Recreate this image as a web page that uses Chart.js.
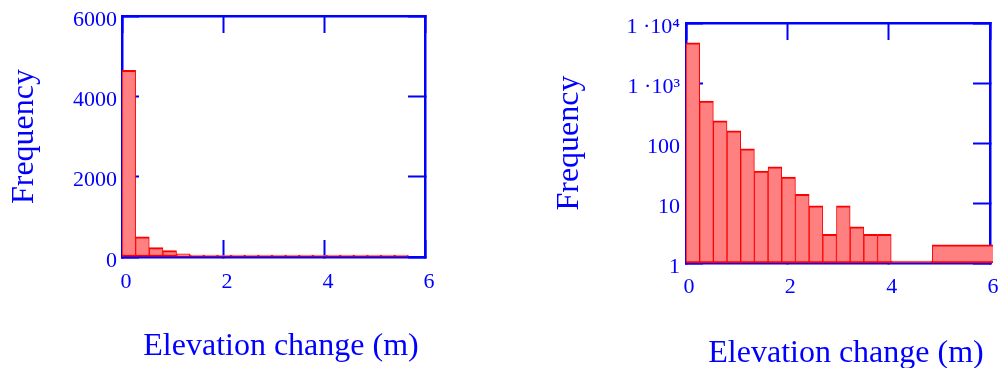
<!DOCTYPE html>
<html>
<head>
<meta charset="utf-8">
<script src="https://cdn.jsdelivr.net/npm/chart.js@4.4.0/dist/chart.umd.min.js"></script>
<style>
  html, body { margin: 0; padding: 0; background: #fff; }
  #wrap { position: relative; width: 998px; height: 368px; overflow: hidden; }
  canvas { position: absolute; top: 0; }
  #linChart { left: 0; }
  #logChart { left: 499px; }
  .xtitle {
    position: absolute; width: 300px; text-align: center; white-space: nowrap;
    font: 32px/1 'Liberation Serif', 'Times New Roman', serif; color: #0000ff;
  }
</style>
</head>
<body>
<div id="wrap">
  <canvas id="linChart" width="499" height="368"></canvas>
  <canvas id="logChart" width="499" height="368"></canvas>
  <div class="xtitle" style="left:131px; top:328px;">Elevation change (m)</div>
  <div class="xtitle" style="left:696px; top:335px;">Elevation change (m)</div>
</div>
<script>
// ===== Elevation change histogram (linear and log frequency) =====

// bin centres (m) and number of cells per bin
const binCenters = [0.135, 0.405, 0.675, 0.945, 1.215, 1.485, 1.755, 2.025, 2.295, 2.565, 2.835,
                    3.105, 3.375, 3.645, 3.915, 4.185, 4.455, 4.725, 4.995, 5.265, 5.535];
const binCounts = [4650, 500, 235, 160, 80, 34, 40, 27, 14, 9, 3,
                   9, 4, 3, 3, 1, 0, 0, 0, 0, 2];

// axis ticks
const xTicks = [0, 2, 4, 6];
const linTicks = [0, 2000, 4000, 6000];
const logTicks = [1, 10, 100, 1000, 10000];
const logTickLabels = ['1', '10', '100', '1 \u00b710\u00b3', '1 \u00b710\u2074'];

const BLUE = '#0000ff';

Chart.defaults.font.family = "'Liberation Serif', 'Times New Roman', serif";
Chart.defaults.color = BLUE;

const setTicks = values => scale => {
    scale.ticks = values.map(v => ({ value: v }));
};

// fixed box size; label padding must not push the plot area around
const fixSize = (prop, size) => scale => {
    scale[prop] = size;
    scale.paddingTop = scale.paddingBottom = scale.paddingLeft = scale.paddingRight = 0;
};

// Mathcad style frame: blue border on all sides, ticks pointing inwards
function frameAxis(extra) {
    return Object.assign({
        offset: false,
        grid: {
            offset: false,
            drawOnChartArea: false,
            drawTicks: true,
            tickLength: -17,
            tickWidth: 2,
            tickColor: BLUE
        },
        border: { display: true, color: BLUE, width: 2.5 }
    }, extra);
}

const barStyle = {
    backgroundColor: '#ff8080',
    borderColor: '#ff0000',
    borderWidth: { top: 2, right: 1, bottom: 2, left: 1 },
    borderSkipped: false,
    minBarLength: 2,
    barThickness: 'flex',
    categoryPercentage: 1,
    barPercentage: 1
};

const quietPlugins = { legend: { display: false }, tooltip: { enabled: false } };
const tickFont = { size: 22 };
const titleFont = { size: 32 };

// ---- linear frequency ----
new Chart(document.getElementById('linChart'), {
    type: 'bar',
    data: {
        datasets: [{
            data: binCenters.map((x, i) => ({ x, y: binCounts[i] })),
            ...barStyle
        }]
    },
    options: {
        responsive: false,
        animation: false,
        layout: { padding: { left: 5, top: 16, right: 74, bottom: 0 } },
        plugins: quietPlugins,
        scales: {
            x: frameAxis({
                type: 'linear', position: 'bottom', min: 0, max: 6,
                afterBuildTicks: setTicks(xTicks),
                afterFit: fixSize('height', 111),
                ticks: { font: tickFont, padding: 29, labelOffset: 4, maxRotation: 0, autoSkip: false,
                         callback: v => String(v) }
            }),
            x2: frameAxis({
                type: 'linear', position: 'top', min: 0, max: 6,
                afterBuildTicks: setTicks(xTicks),
                afterFit: fixSize('height', 0),
                ticks: { display: false }
            }),
            y: frameAxis({
                type: 'linear', position: 'left', min: 0, max: 6000,
                afterBuildTicks: setTicks(linTicks),
                afterFit: fixSize('width', 117),
                ticks: { font: tickFont, padding: 22, labelOffset: 4, autoSkip: false,
                         callback: v => String(v) },
                title: { display: true, text: 'Frequency', font: titleFont, padding: 0 }
            }),
            y2: frameAxis({
                type: 'linear', position: 'right', min: 0, max: 6000,
                afterBuildTicks: setTicks(linTicks),
                afterFit: fixSize('width', 0),
                ticks: { display: false }
            })
        }
    }
});

// ---- log frequency (empty bins cannot be shown on a log axis) ----
const logData = binCenters
    .map((x, i) => ({ x, y: binCounts[i] }))
    .filter(d => d.y > 0);

const logLabel = v => logTickLabels[logTicks.indexOf(v)] ?? '';

new Chart(document.getElementById('logChart'), {
    type: 'bar',
    data: {
        datasets: [{
            data: logData,
            clip: 3,
            ...barStyle
        }]
    },
    options: {
        responsive: false,
        animation: false,
        layout: { padding: { left: 51, top: 23, right: 8, bottom: 0 } },
        plugins: quietPlugins,
        scales: {
            x: frameAxis({
                type: 'linear', position: 'bottom', min: 0, max: 6,
                afterBuildTicks: setTicks(xTicks),
                afterFit: fixSize('height', 105),
                ticks: { font: tickFont, padding: 28, labelOffset: 3, maxRotation: 0, autoSkip: false,
                         callback: v => String(v) }
            }),
            x2: frameAxis({
                type: 'linear', position: 'top', min: 0, max: 6,
                afterBuildTicks: setTicks(xTicks),
                afterFit: fixSize('height', 0),
                ticks: { display: false }
            }),
            y: frameAxis({
                type: 'logarithmic', position: 'left', min: 1, max: 10000, beginAtZero: false,
                afterBuildTicks: setTicks(logTicks),
                afterFit: fixSize('width', 136),
                ticks: { font: tickFont, padding: 23, labelOffset: 4, autoSkip: false, callback: logLabel },
                title: { display: true, text: 'Frequency', font: titleFont, padding: 0 }
            }),
            y2: frameAxis({
                type: 'logarithmic', position: 'right', min: 1, max: 10000, beginAtZero: false,
                afterBuildTicks: setTicks(logTicks),
                afterFit: fixSize('width', 0),
                ticks: { display: false }
            })
        }
    }
});
</script>
</body>
</html>
